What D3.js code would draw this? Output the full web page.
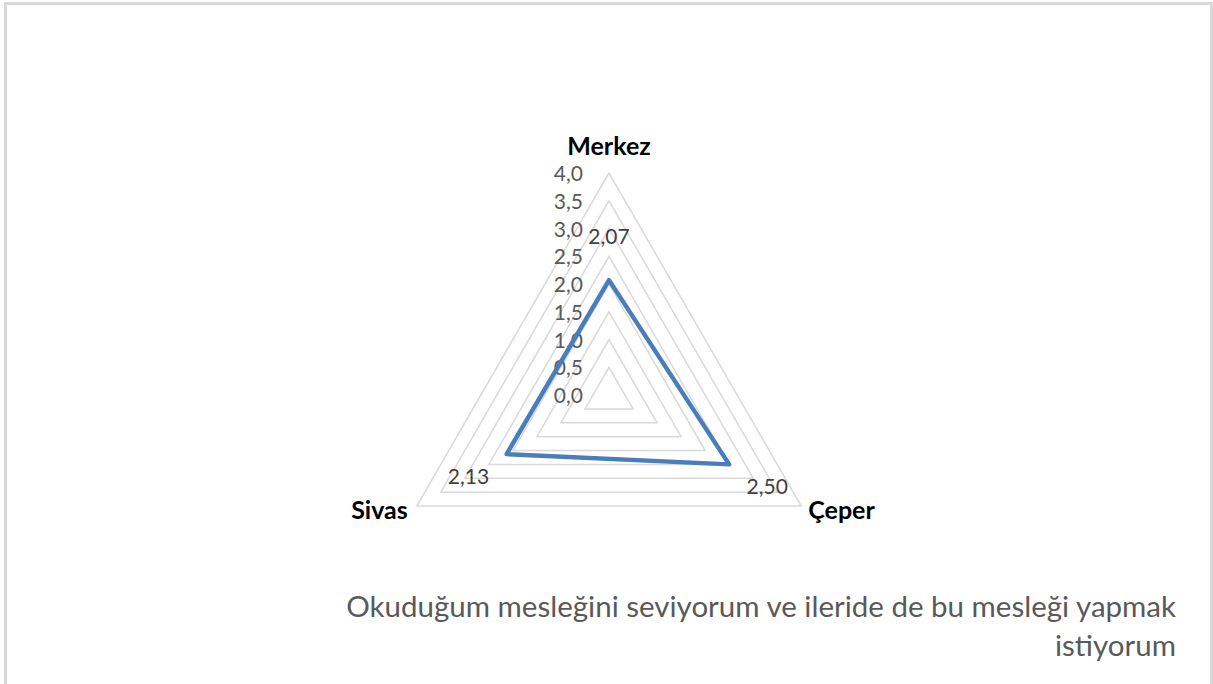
<!DOCTYPE html>
<html>
<head>
<meta charset="utf-8">
<script src="https://cdn.jsdelivr.net/npm/d3@7"></script>
<style>
  body { margin: 0; background: #fff; }
  svg { display: block; font-family: Lato, "Open Sans", sans-serif; }
</style>
</head>
<body>
<svg id="chart" width="1213" height="684"></svg>
<script>
// data
const categories = ["Merkez", "Çeper", "Sivas"];
const values = [2.07, 2.50, 2.13];
const valueLabels = ["2,07", "2,50", "2,13"];
const levels = [0, 0.5, 1.0, 1.5, 2.0, 2.5, 3.0, 3.5, 4.0];
const levelLabels = ["0,0", "0,5", "1,0", "1,5", "2,0", "2,5", "3,0", "3,5", "4,0"];
const titleLines = ["Okuduğum mesleğini seviyorum ve ileride de bu mesleği yapmak", "istiyorum"];

const cx = 609, cy = 395, R = 222;
const svg = d3.select("#chart");

// frame
svg.append("rect")
  .attr("x", 5.5).attr("y", 3.5)
  .attr("width", 1206).attr("height", 700)
  .attr("fill", "none")
  .attr("stroke", "#d9d9d9")
  .attr("stroke-width", 3);

var r = d3.scaleLinear().domain([0, 4]).range([0, R]);
var angle = d3.scalePoint().domain(categories).range([0, 240]);

function pt(cat, v) {
  var a = (angle(cat) - 90) * Math.PI / 180;
  return [cx + r(v) * Math.cos(a), cy + r(v) * Math.sin(a)];
}

// grid triangles
svg.selectAll(".grid")
  .data(levels.filter(function(d) { return d > 0; }))
  .enter().append("polygon")
  .attr("points", function(d) {
    return categories.map(function(c) { return pt(c, d).join(","); }).join(" ");
  })
  .attr("fill", "none")
  .attr("stroke", "#d9d9d9")
  .attr("stroke-width", 1.5);

// tick labels
svg.selectAll(".tick")
  .data(levels)
  .enter().append("text")
  .attr("x", cx - 26)
  .attr("y", function(d) { return cy - r(d) + 8; })
  .attr("text-anchor", "end")
  .attr("fill", "#595959")
  .style("font-size", "21px")
  .text(function(d, i) { return levelLabels[i]; });

// series
svg.append("polygon")
  .attr("points", categories.map(function(c, i) { return pt(c, values[i]).join(","); }).join(" "))
  .attr("fill", "none")
  .attr("stroke", "#4a7ebb")
  .attr("stroke-width", 4.5)
  .attr("stroke-linejoin", "round");

// data labels
svg.selectAll(".dl")
  .data(values)
  .enter().append("text")
  .attr("x", function(d, i) {
    var p = pt(categories[i], d), a = (angle(categories[i]) - 90) * Math.PI / 180;
    return p[0] + 44 * Math.cos(a);
  })
  .attr("y", function(d, i) {
    var p = pt(categories[i], d), a = (angle(categories[i]) - 90) * Math.PI / 180;
    return p[1] + 44 * Math.sin(a) + 8;
  })
  .attr("text-anchor", "middle")
  .attr("fill", "#404040")
  .style("font-size", "21px")
  .text(function(d, i) { return valueLabels[i]; });

// category labels
var catPos = [[0, -18, "middle"], [7, 13, "start"], [-9, 13, "end"]];
svg.selectAll(".cat")
  .data(categories)
  .enter().append("text")
  .attr("x", function(d, i) { return pt(d, 4)[0] + catPos[i][0]; })
  .attr("y", function(d, i) { return pt(d, 4)[1] + catPos[i][1]; })
  .attr("text-anchor", function(d, i) { return catPos[i][2]; })
  .attr("fill", "#000")
  .style("font-size", "25px")
  .style("font-weight", "bold")
  .text(function(d) { return d; });

// title
svg.selectAll(".title")
  .data(titleLines)
  .enter().append("text")
  .attr("x", 1176)
  .attr("y", function(d, i) { return 617 + i * 39; })
  .attr("text-anchor", "end")
  .attr("fill", "#595959")
  .style("font-size", "29.5px")
  .text(function(d) { return d; });
</script>
</body>
</html>
